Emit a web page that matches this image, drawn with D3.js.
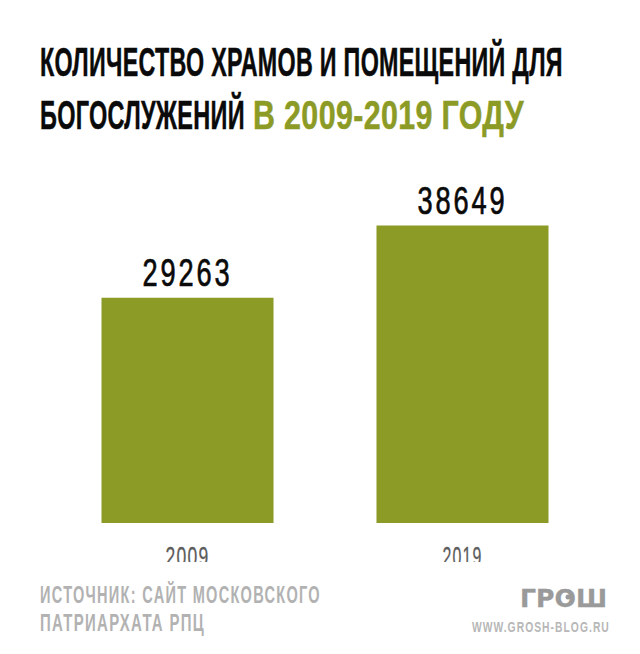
<!DOCTYPE html>
<html>
<head>
<meta charset="utf-8">
<script src="https://cdn.jsdelivr.net/npm/d3@7"></script>
<style>
  html, body { margin: 0; padding: 0; background: #fff; }
  svg { display: block; }
  text { font-family: "Liberation Sans", sans-serif; }
</style>
</head>
<body>
<script>
const years = ["2009", "2019"];
const counts = [29263, 38649];

const width = 640;
const height = 654;
const GREEN = "#8c9a26";
const BLACK = "#0a0a0a";
const GREY = "#b2b2b2";

// x band: bars 172 wide, centres 275 apart
const xScale = d3.scaleBand()
  .domain(years)
  .range([101.5, 548.5])
  .paddingInner(0.3745)
  .paddingOuter(0);

const yScale = d3.scaleLinear()
  .domain([0, 38649])
  .range([523, 225.5]);

document.addEventListener("DOMContentLoaded", function () {
  const svg = d3.select("body").append("svg")
    .attr("width", width)
    .attr("height", height);

  svg.append("rect")
    .attr("width", width)
    .attr("height", height)
    .attr("fill", "#fff");

  // year labels are cut off at the bottom in the original
  svg.append("defs").append("clipPath")
    .attr("id", "year-clip")
    .append("rect")
    .attr("x", 0)
    .attr("y", 530)
    .attr("width", width)
    .attr("height", 32);

  // the original font is condensed, so squeeze a regular one to the measured width
  function squeeze(sel, x, y, w) {
    const natural = sel.node().getComputedTextLength();
    sel.attr("transform", "translate(" + x + "," + y + ") scale(" + (w / natural) + ",1)");
    return sel;
  }

  function label(parent, str, x, y, w, o) {
    const t = parent.append("text")
      .attr("font-size", o.size)
      .attr("font-weight", o.weight || "bold")
      .attr("fill", o.fill)
      .attr("letter-spacing", o.spacing || 0)
      .attr("stroke", o.stroke ? o.fill : "none")
      .attr("stroke-width", o.stroke || 0)
      .text(str);
    return squeeze(t, x, y, w);
  }

  // Title
  const titleStyle = { size: 40, fill: BLACK, stroke: 0.5, spacing: 0.5 };
  const titleGreen = { size: 40, fill: GREEN, stroke: 0.5, spacing: 0.5 };
  label(svg, "КОЛИЧЕСТВО ХРАМОВ И ПОМЕЩЕНИЙ ДЛЯ", 40, 76, 523, titleStyle);
  label(svg, "БОГОСЛУЖЕНИЙ", 40, 129, 205, titleStyle);
  label(svg, "В 2009-2019 ГОДУ", 253, 129, 271, titleGreen);

  // Bars
  svg.selectAll("rect.bar")
    .data(counts)
    .enter()
      .append("rect")
      .attr("class", "bar")
      .attr("x", function (d, i) { return xScale(years[i]); })
      .attr("y", function (d) { return yScale(d); })
      .attr("width", xScale.bandwidth())
      .attr("height", function (d) { return yScale(0) - yScale(d); })
      .attr("fill", GREEN);

  // Value labels, width of the number
  counts.forEach(function (d, i) {
    const w = 90;
    const cx = xScale(years[i]) + xScale.bandwidth() / 2;
    label(svg, String(d), cx - w / 2, yScale(d) - 12, w, { size: 38, weight: "normal", fill: BLACK, stroke: 0.7, spacing: 4 });
  });

  // Axis labels
  const yearGroup = svg.append("g").attr("clip-path", "url(#year-clip)");
  years.forEach(function (d, i) {
    const w = i === 0 ? 44 : 40;
    const cx = xScale(d) + xScale.bandwidth() / 2;
    label(yearGroup, d, cx - w / 2, 566, w, { size: 28, weight: "normal", fill: "#5c5c5c", stroke: 0.3, spacing: 2 });
  });

  // Source
  const sourceStyle = { size: 23, fill: GREY, spacing: 2 };
  label(svg, "ИСТОЧНИК: САЙТ МОСКОВСКОГО", 40, 603, 281, sourceStyle);
  label(svg, "ПАТРИАРХАТА РПЦ", 40, 631, 165, sourceStyle);

  // Logo
  const logo = label(svg, "ГРОШ", 520, 606.5, 87, { size: 25, fill: "#9a9a9a", stroke: 0.3 });
  logo.style("font-family", "'DejaVu Sans'");
  squeeze(logo, 520, 606.5, 87);
  svg.append("circle")
    .attr("cx", 568)
    .attr("cy", 597)
    .attr("r", 2.5)
    .attr("fill", "#9a9a9a");

  label(svg, "WWW.GROSH-BLOG.RU", 472, 632, 138, { size: 15, fill: "#b7b7b7", spacing: 1.5 });
});
</script>
</body>
</html>
